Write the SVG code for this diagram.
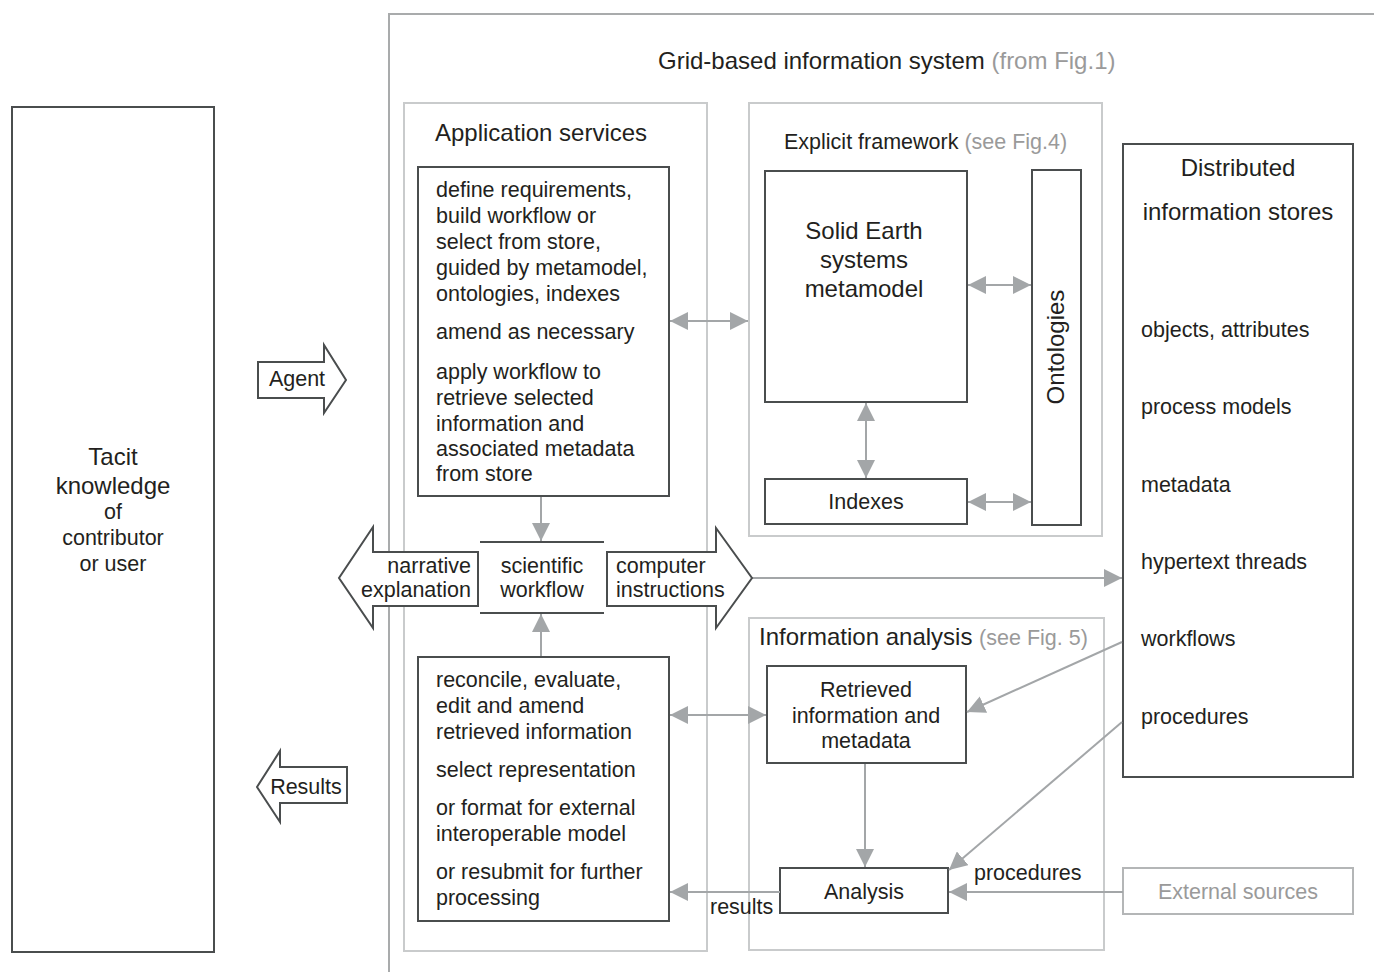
<svg xmlns="http://www.w3.org/2000/svg" width="1374" height="972" viewBox="0 0 1374 972">
<defs>
<marker id="ah" viewBox="0 0 10 10" refX="10" refY="5" markerWidth="18" markerHeight="18" markerUnits="userSpaceOnUse" orient="auto-start-reverse">
<path d="M0,0 L10,5 L0,10 z" fill="#a3a6a8"/>
</marker>
</defs>
<style>
text{font-family:"Liberation Sans",Arial,sans-serif;fill:#231f20;font-size:21.5px}
.big{font-size:24px}
.grey{fill:#9a9a9a}
.mid{text-anchor:middle}
.end{text-anchor:end}
.panel{fill:none;stroke:#c9cbcc;stroke-width:2}
.box{fill:#fff;stroke:#4a4d4e;stroke-width:2}
.conn{fill:none;stroke:#a3a6a8;stroke-width:2}
.frame{fill:none;stroke:#a9abac;stroke-width:2}
</style>
<rect width="1374" height="972" fill="#fff"/>

<g id="frame">
<path class="frame" d="M389,972 V14 H1374"/>
<text x="658" y="69" class="big">Grid-based information system <tspan class="grey">(from Fig.1)</tspan></text>
</g>

<g id="tacit">
<rect class="box" x="12" y="107" width="202" height="845"/>
<text x="113" y="465" class="mid big">Tacit</text>
<text x="113" y="494" class="mid big">knowledge</text>
<text x="113" y="519" class="mid">of</text>
<text x="113" y="545" class="mid">contributor</text>
<text x="113" y="571" class="mid">or user</text>
</g>

<g id="app-services">
<rect class="panel" x="404" y="103" width="303" height="848"/>
<text x="435" y="141" class="big">Application services</text>
</g>

<g id="app-top">
<rect class="box" x="418" y="167" width="251" height="329"/>
<text x="436" y="197">define requirements,</text>
<text x="436" y="223">build workflow or</text>
<text x="436" y="249">select from store,</text>
<text x="436" y="275">guided by metamodel,</text>
<text x="436" y="301">ontologies, indexes</text>
<text x="436" y="339">amend as necessary</text>
<text x="436" y="379">apply workflow to</text>
<text x="436" y="405">retrieve selected</text>
<text x="436" y="431">information and</text>
<text x="436" y="456">associated metadata</text>
<text x="436" y="481">from store</text>
</g>

<g id="app-bottom">
<rect class="box" x="418" y="657" width="251" height="264"/>
<text x="436" y="687">reconcile, evaluate,</text>
<text x="436" y="713">edit and amend</text>
<text x="436" y="739">retrieved information</text>
<text x="436" y="777">select representation</text>
<text x="436" y="815">or format for external</text>
<text x="436" y="841">interoperable model</text>
<text x="436" y="879">or resubmit for further</text>
<text x="436" y="905">processing</text>
</g>

<g id="explicit-framework">
<rect class="panel" x="749" y="103" width="353" height="433"/>
<text x="784" y="149">Explicit framework <tspan class="grey">(see Fig.4)</tspan></text>
</g>

<g id="solid-earth">
<rect class="box" x="765" y="171" width="202" height="231"/>
<text x="864" y="239" class="mid big">Solid Earth</text>
<text x="864" y="268" class="mid big">systems</text>
<text x="864" y="297" class="mid big">metamodel</text>
</g>

<g id="indexes">
<rect class="box" x="765" y="479" width="202" height="45"/>
<text x="866" y="509" class="mid">Indexes</text>
</g>

<g id="ontologies">
<rect class="box" x="1032" y="170" width="49" height="355"/>
<text transform="translate(1064,347) rotate(-90)" class="mid big">Ontologies</text>
</g>

<g id="distributed">
<rect class="box" x="1123" y="144" width="230" height="633"/>
<text x="1238" y="176" class="mid big">Distributed</text>
<text x="1238" y="220" class="mid big">information stores</text>
<text x="1141" y="337">objects, attributes</text>
<text x="1141" y="414">process models</text>
<text x="1141" y="492">metadata</text>
<text x="1141" y="569">hypertext threads</text>
<text x="1141" y="646">workflows</text>
<text x="1141" y="724">procedures</text>
</g>

<g id="info-analysis">
<rect class="panel" x="749" y="618" width="355" height="332"/>
<text x="759" y="645" class="big">Information analysis <tspan class="grey" style="font-size:21.5px">(see Fig. 5)</tspan></text>
</g>

<g id="retrieved">
<rect class="box" x="767" y="666" width="199" height="97"/>
<text x="866" y="697" class="mid">Retrieved</text>
<text x="866" y="723" class="mid">information and</text>
<text x="866" y="748" class="mid">metadata</text>
</g>

<g id="analysis">
<rect class="box" x="780" y="868" width="168" height="45"/>
<text x="864" y="899" class="mid">Analysis</text>
</g>

<g id="external">
<rect class="panel" x="1123" y="868" width="230" height="46" style="stroke:#b4b6b7"/>
<text x="1238" y="899" class="mid grey">External sources</text>
</g>

<g id="connectors">
<line class="conn" x1="670" y1="321" x2="748" y2="321" marker-start="url(#ah)" marker-end="url(#ah)"/>
<line class="conn" x1="968" y1="285" x2="1031" y2="285" marker-start="url(#ah)" marker-end="url(#ah)"/>
<line class="conn" x1="866" y1="403" x2="866" y2="478" marker-start="url(#ah)" marker-end="url(#ah)"/>
<line class="conn" x1="968" y1="502" x2="1031" y2="502" marker-start="url(#ah)" marker-end="url(#ah)"/>
<line class="conn" x1="541" y1="497" x2="541" y2="541" marker-end="url(#ah)"/>
<line class="conn" x1="541" y1="656" x2="541" y2="614" marker-end="url(#ah)"/>
<line class="conn" x1="752" y1="578" x2="1122" y2="578" marker-end="url(#ah)"/>
<line class="conn" x1="670" y1="715" x2="766" y2="715" marker-start="url(#ah)" marker-end="url(#ah)"/>
<line class="conn" x1="865" y1="764" x2="865" y2="867" marker-end="url(#ah)"/>
<line class="conn" x1="1122" y1="642" x2="967" y2="712" marker-end="url(#ah)"/>
<line class="conn" x1="1122" y1="722" x2="949" y2="870" marker-end="url(#ah)"/>
<line class="conn" x1="1123" y1="892" x2="949" y2="892" marker-end="url(#ah)"/>
<line class="conn" x1="780" y1="892" x2="670" y2="892" marker-end="url(#ah)"/>
<text x="974" y="880">procedures</text>
<text x="710" y="914">results</text>
</g>

<g id="narrative-arrow">
<path class="box" d="M478,552 H373 V527 L339,578 L373,628 V606 H478 Z"/>
<text x="471" y="573" class="end">narrative</text>
<text x="471" y="597" class="end">explanation</text>
</g>

<g id="workflow">
<path fill="none" stroke="#4a4d4e" stroke-width="2" d="M480,542 H604 M480,613 H604"/>
<text x="542" y="573" class="mid">scientific</text>
<text x="542" y="597" class="mid">workflow</text>
</g>

<g id="computer-arrow">
<path class="box" d="M607,552 H716 V528 L752,578 L716,628 V606 H607 Z"/>
<text x="616" y="573">computer</text>
<text x="616" y="597">instructions</text>
</g>

<g id="agent">
<path class="box" d="M258,362 H324 V345 L346,380 L324,413 V398 H258 Z"/>
<text x="297" y="386" class="mid">Agent</text>
</g>

<g id="results">
<path class="box" d="M347,767 H280 V751 L257,787 L280,822 V803 H347 Z"/>
<text x="306" y="794" class="mid">Results</text>
</g>
</svg>
